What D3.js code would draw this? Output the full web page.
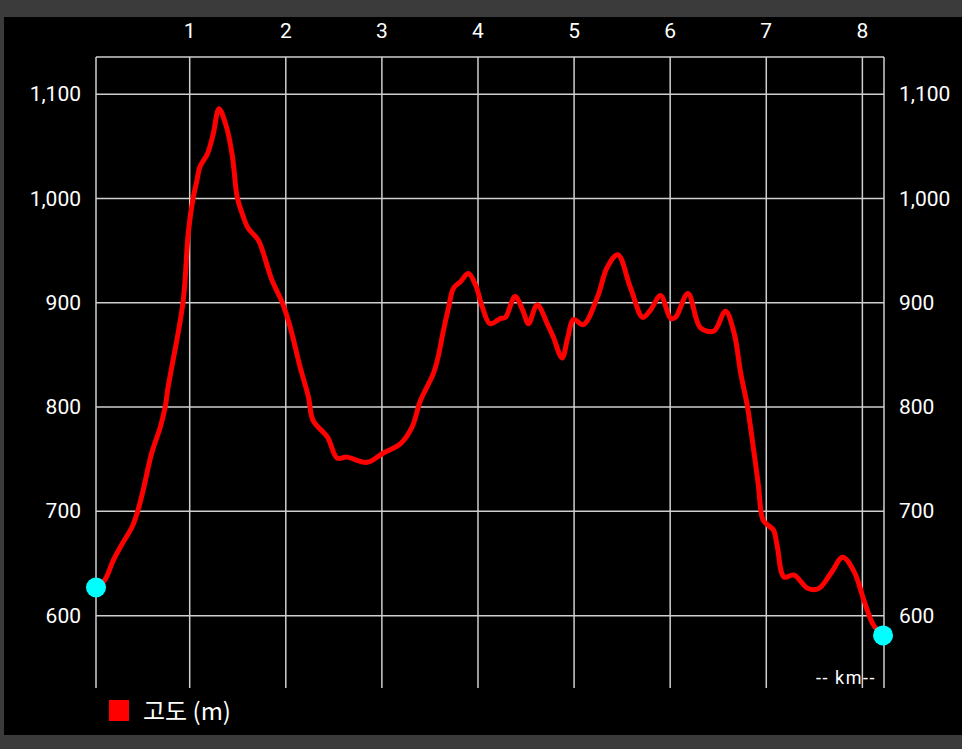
<!DOCTYPE html>
<html>
<head>
<meta charset="utf-8">
<script src="https://cdn.jsdelivr.net/npm/d3@7/dist/d3.min.js"></script>
<style>
html,body{margin:0;padding:0;background:#3b3b3b;overflow:hidden;}
svg{display:block;}
</style>
</head>
<body>
<svg id="chart" width="962" height="749"></svg>
<script>
// Distance (km) and elevation (m)
const distanceKm = [0.025,0.115,0.205,0.305,0.4,0.455,0.515,0.605,0.695,0.745,0.775,0.93,0.985,1.035,1.075,1.105,1.185,1.245,1.305,1.385,1.445,1.495,1.545,1.605,1.715,1.765,1.855,1.965,2.045,2.15,2.235,2.285,2.435,2.535,2.635,2.845,3.015,3.195,3.315,3.4,3.535,3.585,3.635,3.695,3.745,3.815,3.9,3.975,4.045,4.125,4.235,4.285,4.385,4.465,4.525,4.615,4.725,4.785,4.875,4.935,4.995,5.095,5.245,5.345,5.455,5.585,5.715,5.795,5.9,6.005,6.055,6.185,6.315,6.455,6.575,6.665,6.735,6.805,6.855,6.915,6.965,7.015,7.075,7.115,7.185,7.285,7.435,7.545,7.675,7.795,7.915,8.015,8.115,8.215];
const elevationM = [627,634,653,670,685,699,720,756,781,800,819,900,967,1000,1017,1030,1043,1062,1086,1068,1040,1001,986,972,960,948,922,900,877,838,810,787,771,751,752,747,756,765,781,806,832,848,871,896,914,920,928,917,896,880,885,886,906,893,880,898,879,867,847,867,884,879,906,934,946,915,886,893,907,885,886,909,876,873,892,871,832,800,768,727,692,687,682,666,637,639,626,626,641,656,642,615,591,581];
const xTicks = [1,2,3,4,5,6,7,8];
const yTicks = [600,700,800,900,1000,1100];
const xDomain = [0.025, 8.225];
const yDomain = [530.6, 1135.7];
const seriesName = "고도 (m)";
const unitLabel = "-- km--";

(function(){
const svg = d3.select("#chart");
const pLeft = 96, pRight = 884, pTop = 57, pBottom = 688;

svg.append("rect").attr("x",4).attr("y",17).attr("width",958).attr("height",718).attr("fill","#000");

const x = d3.scaleLinear().domain(xDomain).range([pLeft, pRight]);
const y = d3.scaleLinear().domain(yDomain).range([pBottom, pTop]);

const gridColor = "#cfcfcf";
const g = svg.append("g");
g.selectAll("line.h").data(yTicks.concat([yDomain[1]])).join("line")
  .attr("x1", pLeft).attr("x2", pRight)
  .attr("y1", d=>y(d)).attr("y2", d=>y(d))
  .attr("stroke", gridColor).attr("stroke-width",1.5);
g.selectAll("line.v").data([xDomain[0]].concat(xTicks, [xDomain[1]])).join("line")
  .attr("x1", d=>x(d)).attr("x2", d=>x(d))
  .attr("y1", pTop).attr("y2", pBottom)
  .attr("stroke", gridColor).attr("stroke-width",1.5);

const font = "Roboto, 'Noto Sans', sans-serif";
svg.selectAll("text.xl").data(xTicks).join("text")
  .attr("x", d=>x(d)).attr("y", 38)
  .attr("text-anchor","middle").attr("fill","#fff")
  .attr("font-family", font).attr("font-size", 21)
  .text(d=>d);

const fmt = d3.format(",");
svg.selectAll("text.yl").data(yTicks).join("text")
  .attr("x", 81).attr("y", d=>y(d)+7)
  .attr("text-anchor","end").attr("fill","#fff")
  .attr("font-family", font).attr("font-size", 21)
  .text(d=>fmt(d));
svg.selectAll("text.yr").data(yTicks).join("text")
  .attr("x", 899).attr("y", d=>y(d)+7)
  .attr("text-anchor","start").attr("fill","#fff")
  .attr("font-family", font).attr("font-size", 21)
  .text(d=>fmt(d));

svg.append("text").attr("x", 846).attr("y", 684)
  .attr("text-anchor","middle").attr("fill","#fff")
  .attr("font-family", font).attr("font-size", 18).attr("letter-spacing", 1.5)
  .text(unitLabel);

const data = distanceKm.map((d,i)=>({x:d, y:elevationM[i]}));
const line = d3.line().x(d=>x(d.x)).y(d=>y(d.y)).curve(d3.curveCatmullRom.alpha(0.5));
svg.append("path").datum(data).attr("d", line)
  .attr("fill","none").attr("stroke","#ff0000").attr("stroke-width",5)
  .attr("stroke-linejoin","round").attr("stroke-linecap","round");

svg.selectAll("circle.end").data([data[0], data[data.length-1]]).join("circle")
  .attr("cx", d=>x(d.x)).attr("cy", d=>y(d.y)).attr("r", 10)
  .attr("fill","#00ffff");

svg.append("rect").attr("x",109).attr("y",700).attr("width",20).attr("height",21).attr("fill","#ff0000");
svg.append("text").attr("x",143).attr("y",720)
  .attr("fill","#fff").attr("font-family","'Noto Sans CJK KR', 'Noto Sans', sans-serif").attr("font-size",24)
  .text(seriesName);
})();
</script>
</body>
</html>
